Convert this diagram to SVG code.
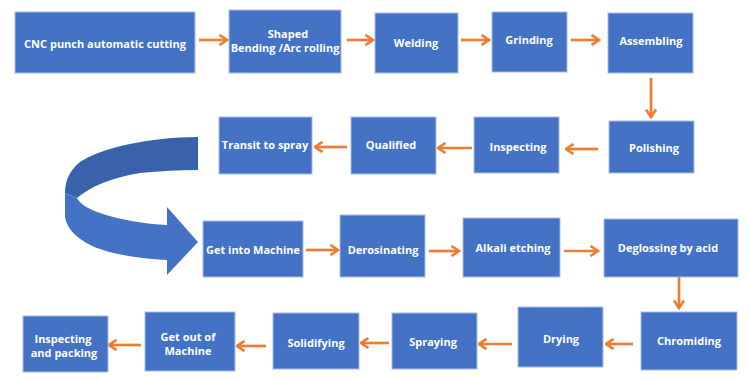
<svg xmlns="http://www.w3.org/2000/svg" width="750" height="379" viewBox="0 0 750 379">
<defs>
<marker id="ah" viewBox="0 0 12 12" refX="10.5" refY="6" markerWidth="12" markerHeight="12" markerUnits="userSpaceOnUse" orient="auto">
<path d="M3,1 L10.5,6 L3,11" fill="none" stroke="#ED7D31" stroke-width="2.7" stroke-linejoin="miter"/>
</marker>
<style>
.box{fill:#4472C4;stroke:#A9BEE6;stroke-width:1}
.t{font-family:"Open Sans","Liberation Sans",sans-serif;font-weight:bold;font-size:11px;fill:#fff;text-anchor:middle}
.c{stroke:#ED7D31;stroke-width:2.7;fill:none;marker-end:url(#ah)}
</style>
</defs>
<rect width="750" height="379" fill="#fff"/>

<g id="curved-arrow">
<path d="M198,137 C150,137 100,148 80,162 C70,170 65,180 65,193 L77,198 C90,187 110,178 140,173 C160,171 180,170 198,170 Z" fill="#3A62AA"/>
<path d="M65,193 L65,217 C67,230 80,242 100,249 C120,256 145,259 167,260 L167,275 L198,242 L167,207 L167,225 C145,224 120,220 100,213 C88,209 80,204 77,198 Z" fill="#4472C4"/>
</g>

<g id="connectors">
<line class="c" x1="199" y1="40" x2="227" y2="40"/>
<line class="c" x1="347" y1="40" x2="373" y2="40"/>
<line class="c" x1="461" y1="40" x2="489" y2="40"/>
<line class="c" x1="571" y1="40" x2="599" y2="40"/>
<line class="c" x1="651" y1="78" x2="651" y2="117"/>
<line class="c" x1="598" y1="149" x2="566" y2="149"/>
<line class="c" x1="472" y1="148" x2="438" y2="148"/>
<line class="c" x1="347" y1="147" x2="315" y2="147"/>
<line class="c" x1="306" y1="250" x2="338" y2="250"/>
<line class="c" x1="429" y1="251" x2="459" y2="251"/>
<line class="c" x1="564" y1="251" x2="598" y2="251"/>
<line class="c" x1="679" y1="277" x2="679" y2="308"/>
<line class="c" x1="633" y1="344" x2="606" y2="344"/>
<line class="c" x1="512" y1="344" x2="479" y2="344"/>
<line class="c" x1="389" y1="343" x2="361" y2="343"/>
<line class="c" x1="266" y1="346" x2="237" y2="346"/>
<line class="c" x1="141" y1="345" x2="109" y2="345"/>
</g>

<g id="n1"><rect class="box" x="15" y="12" width="180" height="61"/><text class="t" x="105" y="48">CNC punch automatic cutting</text></g>
<g id="n2"><rect class="box" x="229" y="10" width="112" height="63"/><text class="t" x="288" y="38">Shaped</text><text class="t" x="285" y="52">Bending /Arc rolling</text></g>
<g id="n3"><rect class="box" x="375" y="13" width="83" height="60"/><text class="t" x="416" y="47">Welding</text></g>
<g id="n4"><rect class="box" x="492" y="12" width="75" height="60"/><text class="t" x="529" y="44">Grinding</text></g>
<g id="n5"><rect class="box" x="608" y="13" width="85" height="60"/><text class="t" x="651" y="45">Assembling</text></g>

<g id="n6"><rect class="box" x="609" y="121" width="85" height="52"/><text class="t" x="654" y="152">Polishing</text></g>
<g id="n7"><rect class="box" x="474" y="117" width="85" height="56"/><text class="t" x="518" y="151">Inspecting</text></g>
<g id="n8"><rect class="box" x="351" y="117" width="85" height="57"/><text class="t" x="391" y="149">Qualified</text></g>
<g id="n9"><rect class="box" x="219" y="117" width="93" height="57"/><text class="t" x="265" y="149">Transit to spray</text></g>

<g id="n10"><rect class="box" x="203" y="221" width="100" height="56"/><text class="t" x="253" y="254">Get into Machine</text></g>
<g id="n11"><rect class="box" x="340" y="215" width="85" height="62"/><text class="t" x="383" y="254">Derosinating</text></g>
<g id="n12"><rect class="box" x="463" y="218" width="97" height="59"/><text class="t" x="513" y="252">Alkali etching</text></g>
<g id="n13"><rect class="box" x="604" y="219" width="134" height="58"/><text class="t" x="668" y="252">Deglossing by acid</text></g>

<g id="n14"><rect class="box" x="641" y="312" width="96" height="58"/><text class="t" x="689" y="345">Chromiding</text></g>
<g id="n15"><rect class="box" x="518" y="307" width="85" height="60"/><text class="t" x="561" y="343">Drying</text></g>
<g id="n16"><rect class="box" x="392" y="313" width="85" height="56"/><text class="t" x="433" y="346">Spraying</text></g>
<g id="n17"><rect class="box" x="273" y="313" width="86" height="56"/><text class="t" x="316" y="347">Solidifying</text></g>
<g id="n18"><rect class="box" x="145" y="312" width="90" height="59"/><text class="t" x="188" y="341">Get out of</text><text class="t" x="188" y="355">Machine</text></g>
<g id="n19"><rect class="box" x="23" y="316" width="85" height="56"/><text class="t" x="63" y="343">Inspecting</text><text class="t" x="64" y="357">and packing</text></g>
</svg>
